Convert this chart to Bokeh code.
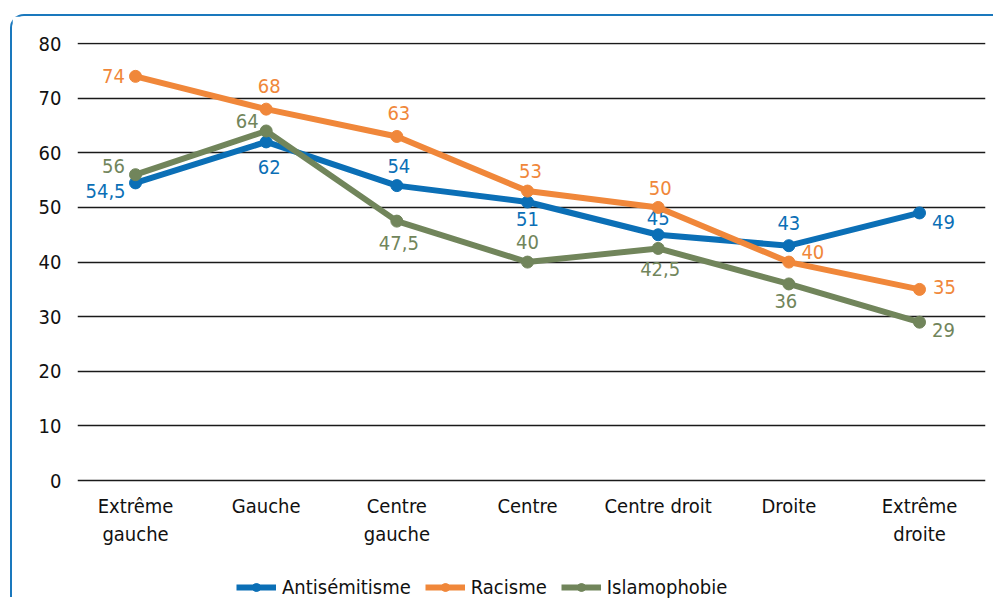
from bokeh.plotting import figure
from bokeh.models import ColumnDataSource, FixedTicker, Legend, LegendItem, Range1d
from bokeh.core.properties import value
from bokeh.embed import file_html
from bokeh.resources import INLINE

categories = ["Extrême\ngauche", "Gauche", "Centre\ngauche", "Centre", "Centre droit", "Droite", "Extrême\ndroite"]
antisemitisme = [54.5, 62, 54, 51, 45, 43, 49]
racisme = [74, 68, 63, 53, 50, 40, 35]
islamophobie = [56, 64, 47.5, 40, 42.5, 36, 29]
y_ticks = [0, 10, 20, 30, 40, 50, 60, 70, 80]

FONT = "DejaVu Sans Condensed"
BLUE = "#0b6fb6"
ORANGE = "#f0873a"
GREEN = "#71855b"
TXT = "#111111"

xs = list(range(len(categories)))

p = figure(width=983, height=583, output_backend="svg", toolbar_location=None,
           x_range=Range1d(-0.444, 6.505), y_range=Range1d(-21.77, 80.2),
           min_border_left=65, min_border_right=10, min_border_top=26, min_border_bottom=0)
p.outline_line_color = None
p.background_fill_color = "white"
p.border_fill_color = "white"
p.styles = {"border-left": "2px solid #1a78bd", "border-top": "2px solid #1a78bd",
            "border-top-left-radius": "14px", "margin-left": "10px", "margin-top": "14px"}

# y axis
p.yaxis.ticker = FixedTicker(ticks=y_ticks)
p.yaxis.axis_line_color = None
p.yaxis.major_tick_line_color = None
p.yaxis.minor_tick_line_color = None
p.yaxis.major_tick_out = 0
p.yaxis.major_tick_in = 0
p.yaxis.major_label_text_font = FONT
p.yaxis.major_label_text_font_size = "20px"
p.yaxis.major_label_text_color = TXT
p.yaxis.major_label_standoff = 16

# x axis hidden; categories drawn as text below the zero line
p.xaxis.visible = False
p.xgrid.grid_line_color = None
p.ygrid.ticker = FixedTicker(ticks=y_ticks)
p.ygrid.grid_line_color = "#1a1a1a"
p.ygrid.grid_line_width = 1.6

cat_src = ColumnDataSource(dict(x=xs, y=[0] * len(xs), lab=categories))
p.text("x", "y", text="lab", source=cat_src, y_offset=13,
       text_color=TXT, text_font=value(FONT), text_font_size="20px",
       text_align="center", text_baseline="top", text_line_height=1.19)

series = [
    ("Antisémitisme", antisemitisme, BLUE,
     [-30, 3, 2, 0, 0, 0, 24], [-8, -25, 20, -17, 17, 23, -9]),
    ("Islamophobie", islamophobie, GREEN,
     [-22, -19, 2, 0, 2, -3, 24], [9, 10, -22, 20, -21, -17, -8]),
    ("Racisme", racisme, ORANGE,
     [-22, 3, 2, 3, 2, 24, 25], [0, 23, 23, 20, 19, 10, 2]),
]

items = {}
for name, vals, color, dx, dy in series:
    src = ColumnDataSource(dict(x=xs, y=vals,
                                lab=[str(v).replace(".", ",") if v % 1 else str(int(v)) for v in vals],
                                dx=dx, dy=[-d for d in dy]))
    l = p.line("x", "y", source=src, line_color=color, line_width=6)
    s = p.scatter("x", "y", source=src, size=12, fill_color=color, line_color=color)
    p.text("x", "y", text="lab", source=src, x_offset="dx", y_offset="dy",
           text_color=color, text_font=value(FONT), text_font_size="20px",
           text_align="center", text_baseline="middle")
    items[name] = [l, s]

legend = Legend(items=[LegendItem(label=n, renderers=items[n]) for n in ["Antisémitisme", "Racisme", "Islamophobie"]],
                orientation="horizontal", location=(159, 0),
                label_text_font=FONT, label_text_font_size="20px", label_text_color=TXT,
                glyph_width=40, glyph_height=20, label_standoff=6, spacing=14,
                border_line_color=None, background_fill_alpha=0, padding=0, margin=0)
p.add_layout(legend)

open("out.html", "w").write(file_html(p, INLINE))
